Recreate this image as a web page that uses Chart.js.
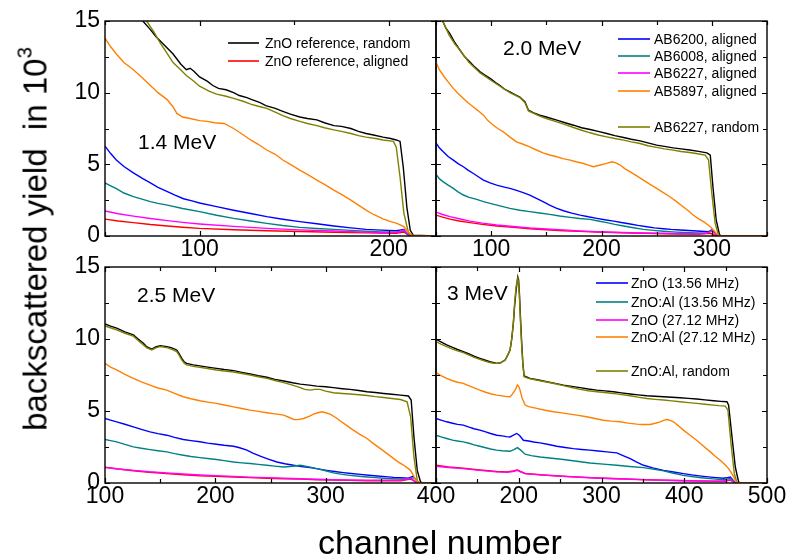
<!DOCTYPE html>
<html>
<head>
<meta charset="utf-8">
<script src="https://cdn.jsdelivr.net/npm/chart.js@4.4.1/dist/chart.umd.min.js"></script>
<style>
  html, body { margin: 0; padding: 0; background: #fff; }
  #wrap { position: relative; width: 788px; height: 559px; overflow: hidden; font-family: Arial, "Liberation Sans", sans-serif; }
  #wrap canvas { position: absolute; left: 0; top: 0; }
  #ytitle { position: absolute; left: 35px; top: 239px; transform: translate(-50%, -50%) rotate(-90deg); white-space: nowrap; font-size: 33px; line-height: 1; color: #000; }
  #ytitle sup { font-size: 62%; vertical-align: 0.75em; line-height: 0; }
  #xtitle { position: absolute; left: 440px; top: 525px; transform: translateX(-50%); white-space: nowrap; font-size: 34px; line-height: 1; color: #000; }
</style>
</head>
<body>
<div id="wrap">
  <canvas id="c14" width="788" height="559"></canvas>
  <canvas id="c20" width="788" height="559"></canvas>
  <canvas id="c25" width="788" height="559"></canvas>
  <canvas id="c30" width="788" height="559"></canvas>
  <div id="ytitle">backscattered yield&nbsp; in 10<sup>3</sup></div>
  <div id="xtitle">channel number</div>
</div>
<script>
// ---- data: [channel, yield in 10^3] ----
// 1.4 MeV
const e14_random = [[70,15],[74,14.4],[77,13.9],[80,13.5],[86,12.7],[90,12.0],[93,11.6],[95,11.7],[97,11.5],[100,11.1],[104,10.8],[107,10.5],[110,10.3],[114,10.2],[118,10.0],[121,9.8],[125,9.65],[128,9.5],[132,9.3],[135,9.1],[140,8.9],[144,8.7],[148,8.5],[153,8.3],[157,8.2],[162,8.1],[166,7.9],[171,7.7],[175,7.65],[180,7.5],[184,7.3],[188,7.15],[192,7.05],[197,6.9],[201,6.8],[204,6.7],[206,6.6],[207.7,4.8],[209.6,2],[211.4,0.4],[213,0.05],[225,0]];
const e14_ref_aligned = [[50,1.18],[57,1.05],[65,0.93],[74,0.8],[83,0.7],[91,0.61],[100,0.53],[118,0.44],[135.5,0.37],[153,0.31],[171,0.26],[188,0.22],[204,0.19],[208,0.28],[211,0],[225,0]];
const e14_ab6200 = [[50,6.27],[53,5.75],[56,5.3],[60,4.85],[65,4.4],[70,4.0],[74,3.7],[78,3.4],[83,3.1],[87,2.85],[91.5,2.6],[96,2.45],[100,2.3],[109,2.05],[118,1.8],[127,1.57],[135.5,1.35],[144,1.17],[153,1.0],[162,0.85],[171,0.7],[180,0.57],[188,0.46],[196,0.41],[204,0.37],[208,0.46],[210.5,0.05],[212,0],[225,0]];
const e14_ab6008 = [[50,3.7],[53,3.5],[56,3.3],[60,3.0],[65,2.75],[70,2.55],[74,2.4],[78,2.28],[83,2.15],[91,1.92],[100,1.7],[109,1.45],[118,1.23],[127,1.05],[135.5,0.88],[144,0.73],[153,0.6],[162,0.52],[171,0.46],[180,0.39],[188,0.33],[196,0.29],[204,0.26],[208,0.37],[211,0],[225,0]];
const e14_ab6227 = [[50,1.74],[57,1.55],[65,1.39],[74,1.22],[83,1.07],[91,0.95],[100,0.84],[118,0.67],[135.5,0.53],[153,0.43],[171,0.35],[184,0.29],[197,0.23],[205,0.26],[208,0.42],[209.6,0.2],[212,0],[225,0]];
const e14_ab5897 = [[50,13.8],[53,13.2],[56,12.7],[60,12.1],[65,11.6],[70,11.0],[74,10.5],[78,10.0],[83,9.5],[86,9.0],[88,8.55],[91,8.3],[95,8.2],[100,8.05],[104,8.0],[108,7.9],[113,7.85],[118,7.5],[122,7.15],[127,6.7],[131,6.4],[135.5,6.0],[140,5.7],[144,5.3],[148,5.0],[153,4.6],[157,4.3],[162,3.9],[166,3.6],[171,3.2],[175,2.9],[180,2.5],[184,2.15],[188,1.8],[192,1.5],[197,1.2],[201,1.0],[204,0.9],[208,0.65],[211,0.2],[213,0],[225,0]];
const e14_ab6227_random = [[72,15],[76,14.2],[79,13.5],[83,12.7],[86,12.1],[90,11.6],[93,11.2],[97,10.8],[100,10.45],[105,10.1],[109,9.9],[114,9.75],[118,9.6],[123,9.4],[127,9.2],[131,9.05],[135.5,8.9],[140,8.65],[144,8.4],[148,8.2],[153,8.0],[157,7.85],[162,7.7],[166,7.55],[171,7.4],[175,7.3],[180,7.15],[184,7.0],[188,6.9],[193,6.8],[197,6.7],[202.5,6.6],[204,6.2],[206,4.1],[208,1.6],[210.5,0.2],[212,0],[225,0]];

// 2.0 MeV
const e20_random = [[56,15],[59,14.5],[62.7,14.1],[67,13.5],[71.8,12.96],[76,12.5],[80.8,12.14],[85,11.8],[90,11.45],[95,11.2],[99,11.0],[104,10.7],[108,10.5],[112,10.25],[117,10.05],[122,9.85],[126,9.7],[130.7,9.36],[133.8,8.78],[138,8.6],[144,8.43],[150,8.3],[159.5,8.08],[167,7.9],[174.6,7.73],[182,7.55],[189.7,7.43],[197,7.3],[204.8,7.15],[212,7.0],[220,6.87],[227,6.75],[235,6.64],[242,6.5],[250,6.34],[257,6.25],[265,6.15],[272,6.08],[280,6.0],[288,5.9],[295.5,5.8],[298.6,5.64],[301,3.44],[304,1.1],[307,0.07],[309,0],[350,0]];
const e20_ref_aligned = [[50,1.46],[56,1.32],[62.7,1.18],[71,1.05],[80.8,0.93],[92,0.81],[105,0.7],[120,0.6],[135,0.51],[150,0.44],[165.5,0.37],[180,0.32],[195.7,0.28],[211,0.24],[226,0.21],[241,0.18],[256,0.16],[271,0.14],[286.5,0.12],[298.6,0.19],[303,0.05],[307,0],[350,0]];
const e20_ab6200 = [[50,6.5],[53,6.15],[56.6,5.87],[61,5.55],[65.7,5.29],[70,5.05],[74.8,4.83],[79,4.6],[83.9,4.36],[88,4.15],[93,3.9],[99,3.7],[105,3.55],[111,3.43],[117,3.32],[123,3.18],[129,3.02],[135,2.85],[141,2.62],[147,2.4],[153,2.16],[159,1.95],[165.5,1.76],[173,1.6],[180.6,1.46],[188,1.34],[195.7,1.23],[203,1.13],[211,1.04],[218,0.94],[226,0.84],[233,0.74],[241,0.65],[248,0.57],[256,0.51],[263,0.46],[271,0.42],[279,0.38],[286.5,0.35],[297,0.3],[300,0.42],[304.6,0.07],[307.6,0],[350,0]];
const e20_ab6008 = [[50,4.32],[53,4.0],[56.6,3.78],[61,3.55],[65.7,3.32],[70,3.08],[74.8,2.86],[80,2.7],[86.9,2.55],[93,2.4],[99,2.28],[108,2.1],[117,1.93],[126,1.8],[135,1.7],[144,1.6],[153,1.51],[162,1.4],[171.6,1.3],[180,1.22],[189.7,1.16],[197,1.05],[204.8,0.93],[212,0.81],[220,0.7],[229,0.58],[238,0.46],[247,0.39],[256,0.33],[268,0.27],[280,0.23],[295.5,0.19],[300.7,0.42],[304.6,0.05],[308,0],[350,0]];
const e20_ab6227 = [[50,1.67],[56,1.5],[62.7,1.35],[71,1.2],[80.8,1.04],[92,0.9],[105,0.77],[120,0.66],[135,0.56],[150,0.49],[165.5,0.42],[180,0.36],[195.7,0.3],[211,0.26],[226,0.23],[241,0.21],[256,0.19],[271,0.16],[286.5,0.14],[295.5,0.19],[300,0.35],[304.6,0.05],[308,0],[350,0]];
const e20_ab5897 = [[50,12.14],[53,11.6],[56.6,11.2],[61,10.75],[65.7,10.3],[70,9.95],[74.8,9.6],[79,9.3],[83.9,9.0],[88,8.75],[93,8.43],[97,8.05],[102,7.73],[106,7.5],[111,7.27],[117,6.9],[123,6.57],[129,6.4],[135,6.22],[141,6.0],[147,5.8],[153,5.65],[159.5,5.53],[165,5.4],[171.6,5.29],[177,5.18],[183.7,5.06],[188,4.95],[192.7,4.83],[198.8,4.95],[204,5.05],[209.4,5.18],[213,5.1],[217,4.95],[221,4.7],[226,4.48],[232,4.2],[238,3.9],[244,3.6],[250,3.32],[256,3.03],[262,2.74],[268,2.4],[274,2.04],[279,1.75],[283,1.46],[288,1.2],[292.5,1.0],[296,0.8],[298.6,0.65],[301,0.45],[304,0.19],[307,0],[350,0]];
const e20_ab6227_random = [[56,15],[62,14.0],[67,13.4],[71.8,12.96],[80,12.1],[90,11.38],[99,10.9],[108,10.45],[117,10.0],[126,9.66],[130.7,9.29],[133.8,8.73],[144,8.36],[150,8.2],[159.5,7.96],[167,7.77],[174.6,7.57],[182,7.38],[189.7,7.2],[197,7.05],[204.8,6.92],[212,6.8],[220,6.69],[227,6.57],[235,6.45],[242,6.3],[250,6.18],[257,6.08],[265,5.99],[272,5.9],[280,5.83],[287,5.74],[294,5.64],[297,5.3],[300,2.97],[303,0.88],[306,0.07],[308,0],[350,0]];

// 2.5 MeV
const e25_random = [[100,11.05],[105,10.9],[110.6,10.75],[118,10.5],[125.7,10.29],[130,10.0],[134.8,9.7],[138,9.45],[142.4,9.29],[146,9.45],[150,9.54],[156,9.47],[160,9.4],[165,9.24],[167,9.0],[169.6,8.66],[172,8.4],[174,8.31],[180,8.2],[186,8.13],[193,8.05],[201,7.96],[208,7.88],[216.5,7.8],[224,7.68],[231.6,7.57],[239,7.45],[246.7,7.34],[254,7.2],[262,7.08],[270,6.96],[277,6.87],[285,6.8],[292,6.73],[300,6.68],[307,6.62],[315,6.55],[322,6.5],[330,6.42],[337.5,6.34],[345,6.28],[352.6,6.22],[360,6.16],[367.8,6.1],[375,6.04],[377.5,5.76],[380,3.2],[383,0.88],[386,0.07],[388,0],[400,0]];
const e25_ref_aligned = [[100,1.1],[112,0.97],[125.7,0.85],[140,0.75],[156,0.65],[171,0.57],[186,0.5],[201,0.46],[216.5,0.42],[231,0.37],[246.7,0.33],[262,0.3],[277,0.27],[292,0.23],[307,0.2],[322,0.18],[337.5,0.16],[352,0.15],[367.8,0.15],[377,0.28],[383,0],[400,0]];
const e25_ab6200 = [[100,4.48],[105,4.37],[110.6,4.25],[118,4.08],[125.7,3.9],[133,3.72],[140.8,3.55],[148,3.43],[156,3.32],[163,3.17],[171,3.02],[178,2.94],[186,2.86],[193,2.77],[201,2.69],[208,2.62],[216.5,2.55],[222,2.45],[228.6,2.28],[234,2.08],[240.7,1.86],[248,1.66],[255.8,1.46],[263,1.34],[271,1.23],[278,1.15],[286,1.07],[293,0.98],[301,0.88],[308,0.8],[316,0.72],[323,0.66],[331.5,0.6],[339,0.54],[346.6,0.49],[354,0.44],[361.7,0.39],[368,0.36],[375,0.33],[379,0.46],[384.5,0.02],[386,0],[400,0]];
const e25_ab6008 = [[100,3.02],[105,2.94],[110.6,2.86],[118,2.68],[125.7,2.51],[133,2.41],[140.8,2.32],[148,2.24],[156,2.16],[163,2.04],[171,1.93],[178,1.84],[186,1.76],[193,1.7],[201,1.63],[208,1.55],[216.5,1.46],[224,1.4],[231.6,1.35],[239,1.29],[246.7,1.23],[254,1.17],[262,1.11],[270,1.16],[277,1.23],[285,1.12],[292,1.0],[300,0.85],[307,0.7],[315,0.6],[322,0.53],[330,0.47],[337.5,0.42],[345,0.37],[352.6,0.33],[360,0.3],[367.8,0.28],[375,0.26],[380,0.37],[384.5,0.02],[386,0],[400,0]];
const e25_ab6227 = [[100,1.07],[112,0.97],[125.7,0.88],[140,0.78],[156,0.7],[171,0.62],[186,0.56],[201,0.51],[216.5,0.46],[231,0.41],[246.7,0.37],[262,0.33],[277,0.3],[292,0.26],[307,0.23],[322,0.21],[337.5,0.19],[352,0.19],[367.8,0.19],[376.9,0.33],[383,0.02],[385,0],[400,0]];
const e25_ab5897 = [[100,8.31],[105,8.05],[110.6,7.85],[118,7.55],[125.7,7.27],[133,7.02],[140.8,6.8],[148,6.6],[156,6.45],[163,6.22],[171,5.99],[178,5.85],[186,5.71],[193,5.62],[201,5.53],[208,5.42],[216.5,5.29],[224,5.17],[231.6,5.06],[239,4.97],[246.7,4.88],[254,4.8],[262,4.71],[267,4.55],[271,4.41],[275,4.4],[280,4.48],[285,4.62],[289,4.78],[293,4.88],[296.7,4.95],[300,4.88],[304,4.78],[309,4.55],[313,4.32],[319,4.0],[325,3.67],[331,3.38],[337.5,3.09],[343,2.75],[349.6,2.39],[356,2.02],[361.7,1.69],[366,1.45],[370.8,1.23],[374,1.05],[376.9,0.88],[379,0.6],[381,0.3],[384.5,0],[400,0]];
const e25_ab6227_random = [[100,10.9],[105,10.78],[110.6,10.63],[118,10.4],[125.7,10.2],[130,9.9],[134.8,9.59],[138,9.38],[142.4,9.24],[146,9.38],[150,9.47],[156,9.4],[160,9.3],[165,9.12],[167,8.9],[169.6,8.54],[172,8.3],[174,8.2],[180,8.1],[186,8.03],[193,7.95],[201,7.85],[208,7.78],[216.5,7.71],[224,7.6],[231.6,7.5],[239,7.38],[246.7,7.27],[254,7.12],[262,6.97],[270,6.8],[277,6.62],[281,6.5],[286,6.45],[290,6.5],[295,6.5],[300,6.38],[307,6.27],[315,6.22],[322,6.18],[330,6.13],[337.5,6.08],[345,6.0],[352.6,5.94],[360,5.87],[367.8,5.8],[373.8,5.64],[377,4.6],[380,1.8],[383,0.19],[384.5,0],[400,0]];

// 3 MeV
const e30_random = [[100,9.98],[106,9.8],[112.9,9.59],[120,9.42],[126,9.27],[133,9.12],[140,8.96],[146,8.81],[153,8.66],[159,8.54],[165,8.43],[170,8.36],[173.4,8.31],[178,8.35],[183.5,8.54],[186,8.8],[189.5,9.24],[191.5,10.0],[193.5,11.1],[195,12.3],[196.8,13.4],[198.8,14.3],[199.8,14.1],[200.8,13.2],[202,11.6],[203.6,9.7],[205,8.3],[206.5,7.43],[210,7.35],[213.7,7.27],[224,7.15],[233.9,7.03],[244,6.92],[254,6.8],[264,6.71],[274,6.62],[284,6.53],[294.4,6.45],[304,6.4],[314.5,6.34],[324,6.26],[334.7,6.18],[344,6.12],[354.8,6.06],[365,6.02],[375,5.99],[385,5.95],[395,5.92],[405,5.88],[415,5.83],[425,5.77],[435.5,5.71],[444,5.67],[451.6,5.64],[453.6,5.41],[457.7,3.2],[461.7,1.11],[465.7,0.07],[468,0],[500,0]];
const e30_ref_aligned = [[100,1.23],[115,1.12],[133,1.02],[153,0.9],[173.4,0.8],[186,0.77],[193,0.83],[198.4,0.9],[202,0.8],[207.7,0.66],[230,0.56],[254,0.47],[274,0.41],[294,0.35],[314,0.31],[334.7,0.27],[355,0.23],[375,0.2],[395,0.17],[415,0.15],[435,0.13],[447.6,0.12],[455.6,0.2],[461.7,0],[500,0]];
const e30_zno_1356 = [[100,4.48],[106,4.37],[112.9,4.25],[120,4.15],[126,4.07],[133,4.02],[140,3.88],[146,3.77],[153,3.67],[160,3.55],[166,3.44],[173.4,3.32],[180,3.27],[185,3.22],[189.5,3.2],[193,3.3],[197.6,3.44],[201,3.3],[205.6,2.97],[212,2.92],[218,2.85],[225.8,2.79],[236,2.67],[246,2.55],[256,2.47],[266,2.39],[276,2.33],[286,2.28],[296,2.22],[306.5,2.16],[312,2.13],[318.5,2.09],[326,1.9],[334.7,1.69],[342,1.46],[350.8,1.23],[362,1.05],[375,0.88],[387,0.76],[399,0.65],[411,0.55],[423.4,0.46],[435,0.39],[447.6,0.33],[451,0.36],[455.6,0.42],[461.7,0.02],[463,0],[500,0]];
const e30_znoal_1356 = [[100,3.32],[106,3.2],[112.9,3.09],[120,2.98],[126,2.92],[133,2.86],[140,2.76],[146,2.65],[153,2.55],[160,2.45],[166,2.36],[173.4,2.28],[180,2.24],[189.5,2.2],[194,2.32],[198.4,2.46],[202,2.3],[207.7,2.0],[215,1.9],[225.8,1.81],[240,1.72],[254,1.63],[270,1.51],[286,1.39],[302,1.31],[318.5,1.23],[334,1.15],[350.8,1.07],[362,0.96],[375,0.84],[387,0.68],[399,0.53],[411,0.43],[423.4,0.35],[435,0.29],[447.6,0.23],[451,0.27],[455.6,0.33],[461.7,0.02],[463,0],[500,0]];
const e30_zno_2712 = [[100,1.16],[115,1.08],[133,1.0],[153,0.88],[173.4,0.77],[186,0.74],[193,0.8],[198.4,0.88],[202,0.78],[207.7,0.65],[230,0.55],[254,0.46],[274,0.4],[294.4,0.35],[314,0.3],[334.7,0.26],[355,0.22],[375,0.19],[395,0.16],[415,0.14],[435,0.13],[447.6,0.12],[455.6,0.23],[461.7,0],[500,0]];
const e30_znoal_2712 = [[100,7.66],[106,7.45],[112.9,7.27],[120,7.1],[126,7.0],[133,6.92],[140,6.75],[146,6.6],[153,6.45],[160,6.3],[166,6.2],[173.4,6.1],[180,6.05],[185,6.0],[189.5,5.99],[192,6.15],[195.6,6.45],[198.4,6.8],[200,6.7],[201.6,6.45],[204,5.9],[207.7,5.41],[212,5.3],[221.8,5.18],[232,5.05],[242,4.95],[252,4.87],[262,4.78],[272,4.7],[282,4.6],[292,4.48],[302.4,4.36],[312,4.3],[322.6,4.25],[332,4.16],[342.7,4.09],[350,4.06],[358.9,4.06],[365,4.15],[371,4.25],[375,4.35],[379,4.41],[383,4.35],[387,4.25],[393,3.97],[399,3.67],[407,3.32],[415,2.97],[423,2.57],[431.5,2.16],[437,1.88],[443.5,1.58],[449,1.28],[453.6,1.0],[457,0.7],[459.7,0.42],[463.7,0],[500,0]];
const e30_znoal_random = [[100,9.82],[106,9.65],[112.9,9.47],[120,9.3],[126,9.17],[133,9.05],[140,8.88],[146,8.73],[153,8.59],[159,8.47],[165,8.36],[170,8.32],[173.4,8.31],[178,8.35],[183.5,8.54],[186,8.8],[189.5,9.24],[191.5,10.0],[193.5,11.1],[195,12.5],[196.8,13.65],[198.8,14.2],[199.8,13.9],[200.8,12.96],[202,11.3],[203.6,9.47],[205,8.2],[206.5,7.38],[210,7.3],[213.7,7.24],[224,7.12],[233.9,7.01],[244,6.89],[254,6.76],[264,6.63],[274,6.5],[284,6.41],[294.4,6.34],[304,6.28],[314.5,6.22],[324,6.14],[334.7,6.06],[344,5.96],[354.8,5.87],[365,5.81],[375,5.76],[385,5.7],[395,5.64],[405,5.58],[415,5.53],[425,5.47],[435.5,5.41],[442,5.37],[449.6,5.34],[452.8,5.06],[456.5,2.74],[460.5,0.65],[463.7,0.02],[466,0],[500,0]];

// tick labels
const ticks14 = [100, 200];
const ticks20 = [100, 200, 300];
const ticks25 = [100, 200, 300, 400];
const ticks30 = [200, 300, 400, 500];
const yTicks = [0, 5, 10, 15];

// legend texts
const legend14 = ['ZnO reference, random', 'ZnO reference, aligned'];
const legend20 = ['AB6200, aligned', 'AB6008, aligned', 'AB6227, aligned', 'AB5897, aligned', 'AB6227, random'];
const legend30 = ['ZnO (13.56 MHz)', 'ZnO:Al (13.56 MHz)', 'ZnO (27.12 MHz)', 'ZnO:Al (27.12 MHz)', 'ZnO:Al, random'];

const FONT = 'Arial, "Liberation Sans", sans-serif';
const C = { black: '#000000', red: '#ff0000', blue: '#0000ff', teal: '#008080', magenta: '#ff00ff', orange: '#ff8000', olive: '#808000' };
const Y_W = 60;   // room for the y tick labels
const X_H = 30;   // room for the x tick labels

// frame with inward ticks, panel label and legend
const framePlugin = {
  id: 'frame',
  afterDatasetsDraw(chart, args, opts) {
    const { ctx, chartArea: a, scales: { x, y } } = chart;
    ctx.save();
    ctx.strokeStyle = '#000';
    ctx.lineWidth = 1.2;
    ctx.beginPath();
    for (let v = Math.ceil(x.min / 50) * 50; v <= x.max; v += 50) {
      const px = Math.round(x.getPixelForValue(v)) + 0.5;
      const len = v % 100 === 0 ? 5 : 4;
      ctx.moveTo(px, a.bottom); ctx.lineTo(px, a.bottom - len);
      ctx.moveTo(px, a.top); ctx.lineTo(px, a.top + len);
    }
    for (let v = 0; v <= 15; v += 2.5) {
      const py = Math.round(y.getPixelForValue(v)) + 0.5;
      const len = v % 5 === 0 ? 5 : 4;
      ctx.moveTo(a.left, py); ctx.lineTo(a.left + len, py);
      ctx.moveTo(a.right, py); ctx.lineTo(a.right - len, py);
    }
    ctx.stroke();
    ctx.lineWidth = 1.4;
    ctx.strokeRect(a.left, a.top, a.right - a.left, a.bottom - a.top);

    ctx.fillStyle = '#000';
    ctx.font = '21px ' + FONT;
    ctx.textBaseline = 'alphabetic';
    ctx.fillText(opts.label, opts.labelX, opts.labelY);

    if (opts.legend) {
      const L = opts.legend;
      ctx.font = '14px ' + FONT;
      ctx.textBaseline = 'middle';
      ctx.lineWidth = 1.6;
      L.items.forEach((it, i) => {
        ctx.strokeStyle = L.colors[i];
        ctx.beginPath();
        ctx.moveTo(L.x1, L.ys[i]); ctx.lineTo(L.x2, L.ys[i]);
        ctx.stroke();
        ctx.fillText(it, L.tx, L.ys[i] + 1);
      });
    }
    ctx.restore();
  }
};

function makePanel(id, area, xRange, xTicks, showY, series, frameOpts) {
  const datasets = series.map(([pts, color]) => ({
    data: pts.map(p => ({ x: p[0], y: p[1] })),
    borderColor: color,
    borderWidth: 1.4,
    pointRadius: 0,
    tension: 0,
    fill: false
  }));
  const yw = showY ? Y_W : 0;
  new Chart(document.getElementById(id), {
    type: 'line',
    data: { datasets },
    options: {
      responsive: false,
      animation: false,
      devicePixelRatio: 1,
      layout: { padding: { left: area.l - yw, top: area.t, right: 788 - area.r, bottom: 559 - area.b - X_H } },
      plugins: { legend: { display: false }, tooltip: { enabled: false }, frame: frameOpts },
      scales: {
        x: {
          type: 'linear', min: xRange[0], max: xRange[1],
          grid: { display: false, drawTicks: false }, border: { display: false },
          afterBuildTicks: s => { s.ticks = xTicks.map(v => ({ value: v })); },
          afterFit: s => { s.height = X_H; s.paddingLeft = 0; s.paddingRight = 0; },
          ticks: { padding: 0, color: '#000', font: { family: FONT, size: 23 }, maxRotation: 0, autoSkip: false }
        },
        y: {
          type: 'linear', min: 0, max: 15,
          grid: { display: false, drawTicks: false }, border: { display: false },
          afterBuildTicks: s => { s.ticks = yTicks.map(v => ({ value: v })); },
          afterFit: s => { s.width = yw; s.paddingTop = 0; s.paddingBottom = 0; },
          ticks: { display: showY, padding: 5, color: '#000', font: { family: FONT, size: 23 } }
        }
      }
    },
    plugins: [framePlugin]
  });
}

// first dataset is drawn on top
makePanel('c14', { l: 105, t: 21, r: 436, b: 236 }, [50, 225], ticks14, true, [
  [e14_ab5897, C.orange], [e14_ab6227_random, C.olive], [e14_ab6227, C.magenta],
  [e14_ab6008, C.teal], [e14_ab6200, C.blue], [e14_ref_aligned, C.red], [e14_random, C.black]
], { label: '1.4 MeV', labelX: 138, labelY: 149,
     legend: { x1: 228, x2: 259, tx: 265, ys: [43, 61], colors: [C.black, C.red], items: legend14 } });

makePanel('c20', { l: 436, t: 21, r: 767, b: 236 }, [50, 350], ticks20, false, [
  [e20_ab5897, C.orange], [e20_ab6227_random, C.olive], [e20_ab6227, C.magenta],
  [e20_ab6008, C.teal], [e20_ab6200, C.blue], [e20_ref_aligned, C.red], [e20_random, C.black]
], { label: '2.0 MeV', labelX: 503, labelY: 55,
     legend: { x1: 618, x2: 650, tx: 654, ys: [39, 56, 73, 91, 127],
               colors: [C.blue, C.teal, C.magenta, C.orange, C.olive], items: legend20 } });

makePanel('c25', { l: 105, t: 267, r: 436, b: 483 }, [100, 400], ticks25, true, [
  [e25_ab5897, C.orange], [e25_ab6227_random, C.olive], [e25_ab6227, C.magenta],
  [e25_ab6008, C.teal], [e25_ab6200, C.blue], [e25_ref_aligned, C.red], [e25_random, C.black]
], { label: '2.5 MeV', labelX: 137, labelY: 302 });

makePanel('c30', { l: 436, t: 267, r: 767, b: 483 }, [100, 500], ticks30, false, [
  [e30_znoal_2712, C.orange], [e30_znoal_random, C.olive], [e30_zno_2712, C.magenta],
  [e30_znoal_1356, C.teal], [e30_zno_1356, C.blue], [e30_ref_aligned, C.red], [e30_random, C.black]
], { label: '3 MeV', labelX: 447, labelY: 300,
     legend: { x1: 596, x2: 628, tx: 631, ys: [283, 302, 320, 337, 371],
               colors: [C.blue, C.teal, C.magenta, C.orange, C.olive], items: legend30 } });
</script>
</body>
</html>
